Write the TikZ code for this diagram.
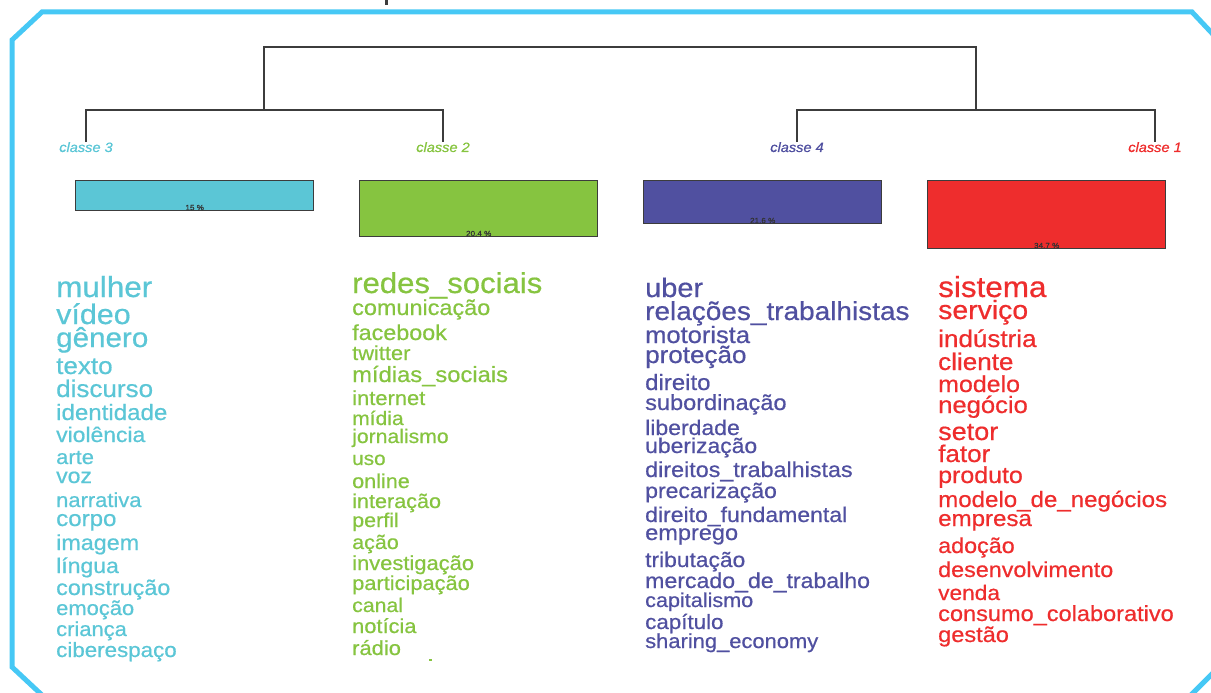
\documentclass[tikz,border=0pt]{standalone}
\usepackage{fontspec}
\setmainfont{Liberation Sans}[FakeStretch=1.08, FakeBold=0.6]
\usetikzlibrary{positioning}
\definecolor{frameblue}{RGB}{70,200,245}
\definecolor{clThree}{RGB}{91,198,214}
\definecolor{clTwo}{RGB}{134,196,64}
\definecolor{clFour}{RGB}{80,80,160}
\definecolor{clOne}{RGB}{238,45,45}
\definecolor{treegray}{RGB}{60,60,60}
\tikzset{
    frame/.style={draw=frameblue, line width=5pt, line join=miter},
    tree/.style={draw=treegray, line width=1.4pt},
    classe/.style={font=\fontsize{13.5}{14}\selectfont\itshape, inner sep=0pt, anchor=north},
    bar/.style={draw=treegray, line width=1.4pt, minimum width=238pt, anchor=north west, inner sep=0pt},
    pct/.style={font=\fontsize{7.5}{7.5}\selectfont, text=black!80, inner sep=1pt, above},
    word/.style={anchor=base west, inner sep=0pt},
}

\begin{document}
\begin{tikzpicture}[x=1pt, y=-1pt]
    \useasboundingbox (0,0) rectangle (1211,693);
    \clip (0,0) rectangle (1211,693);

    % Frame
    \draw[frame] (42,12) -- (1192,12) -- (1224,46) -- (1224,662) -- (1190,696)
        -- (43,696) -- (12,667) -- (12,40) -- cycle;
    \fill[treegray] (385,0) rectangle (388,5);

    % Class labels
    \node[classe, text=clThree] (c3) at (86,142) {classe 3};
    \node[classe, text=clTwo] (c2) at (443,142) {classe 2};
    \node[classe, text=clFour] (c4) at (797,142) {classe 4};
    \node[classe, text=clOne] (c1) at (1155,142) {classe 1};

    % Dendrogram
    \coordinate (j32) at (264,110);
    \coordinate (j41) at (976,110);
    \draw[tree] (c3.north) |- (j32) -| (c2.north);
    \draw[tree] (c4.north) |- (j41) -| (c1.north);
    \draw[tree] (j32) -- ++(0,-63) -| (j41);

    % Bars
    \node[bar, fill=clThree, minimum height=30pt] (b3) at (75,180) {};
    \node[bar, fill=clTwo, minimum height=56pt] (b2) at (359,180) {};
    \node[bar, fill=clFour, minimum height=43pt] (b4) at (643,180) {};
    \node[bar, fill=clOne, minimum height=68pt] (b1) at (927,180) {};
    \node[pct] (p3) at (b3.south) {15 \%};
    \node[pct] (p2) at (b2.south) {20.4 \%};
    \node[pct] (p4) at (b4.south) {21.6 \%};
    \node[pct] (p1) at (b1.south) {34.7 \%};

    % Words of classe 3
    \foreach \s/\y/\w [count=\i] in {29.1/297/mulher, 28.2/324/vídeo, 27.4/347/gênero,
        24.1/374/texto, 24.1/397/discurso, 22.3/420/identidade, 21.2/442/violência,
        20.3/464/arte, 21.3/483/voz, 20.3/507/narrativa, 22.3/526/corpo, 21.6/550/imagem,
        21.3/573/língua, 21.6/595/construção, 20.3/615/emoção, 20.3/636/criança,
        20.7/657/ciberespaço}
        \node[word, text=clThree, font=\fontsize{\s}{\s}\selectfont] (w3-\i) at (56,\y) {\w};

    % Words of classe 2
    \foreach \s/\y/\w [count=\i] in {28.8/293/redes\_sociais, 21.7/315/comunicação,
        21.6/340/facebook, 20.2/360/twitter, 22/382/mídias\_sociais, 20.3/405/internet,
        19.5/425/mídia, 19.6/443/jornalismo, 19.2/465/uso, 20/488/online,
        20/508/interação, 19.9/527/perfil, 19.9/549/ação, 20.3/570/investigação,
        20.2/590/participação, 19.7/612/canal, 20.2/633/notícia, 20.3/655/rádio}
        \node[word, text=clTwo, font=\fontsize{\s}{\s}\selectfont] (w2-\i) at (352,\y) {\w};
    \fill[clTwo] (429,659) rectangle (432,661);

    % Words of classe 4
    \foreach \s/\y/\w [count=\i] in {26.8/297/uber, 25.9/320/relações\_trabalhistas,
        23.6/343/motorista, 24.1/363/proteção, 22.2/390/direito, 21.8/410/subordinação,
        21.3/435/liberdade, 21.2/453/uberização, 21.6/477/direitos\_trabalhistas,
        21.3/498/precarização, 21.3/522/direito\_fundamental, 21.8/540/emprego,
        21.1/567/tributação, 21.4/588/mercado\_de\_trabalho, 20/607/capitalismo,
        20.7/629/capítulo, 20.3/648/sharing\_economy}
        \node[word, text=clFour, font=\fontsize{\s}{\s}\selectfont] (w4-\i) at (645,\y) {\w};

    % Words of classe 1
    \foreach \s/\y/\w [count=\i] in {29.1/297/sistema, 26.3/319/serviço,
        24.1/347/indústria, 24.1/370/cliente, 23.1/392/modelo, 23.7/413/negócio,
        25/440/setor, 24.1/462/fator, 23.1/483/produto, 22.3/507/modelo\_de\_negócios,
        22.3/526/empresa, 21.6/553/adoção, 21.6/577/desenvolvimento, 21/600/venda,
        21.8/621/consumo\_colaborativo, 21.8/642/gestão}
        \node[word, text=clOne, font=\fontsize{\s}{\s}\selectfont] (w1-\i) at (938,\y) {\w};
\end{tikzpicture}
\end{document}
